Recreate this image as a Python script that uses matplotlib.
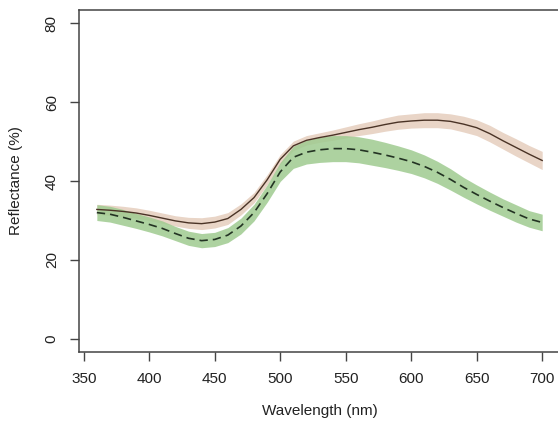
import matplotlib.pyplot as plt
import numpy as np

plt.rcParams["font.family"] = ["Liberation Sans", "DejaVu Sans"]

wavelength = np.arange(360, 701, 10)

# mean reflectance, solid (brown) series
solid_mean = [32.8, 32.6, 32.3, 31.9, 31.3, 30.6, 29.9, 29.4, 29.2, 29.6,
              30.5, 32.8, 35.8, 40.3, 45.5, 48.9, 50.3, 51.0, 51.6, 52.3,
              53.0, 53.6, 54.3, 54.9, 55.2, 55.4, 55.4, 55.1, 54.4, 53.5,
              52.0, 50.2, 48.5, 46.8, 45.2]
solid_err = [1.3, 1.3, 1.3, 1.3, 1.3, 1.3, 1.3, 1.4, 1.5, 1.5,
             1.5, 1.4, 1.3, 1.3, 1.2, 1.2, 1.2, 1.2, 1.3, 1.4,
             1.5, 1.6, 1.7, 1.8, 1.8, 1.9, 1.9, 1.9, 2.0, 2.0,
             2.1, 2.1, 2.2, 2.2, 2.3]

# mean reflectance, dashed (green) series
dashed_mean = [32.0, 31.6, 30.8, 29.9, 29.0, 28.0, 26.7, 25.5, 24.9, 25.2,
               26.3, 28.6, 32.0, 36.8, 42.3, 46.0, 47.3, 47.9, 48.2, 48.2,
               47.9, 47.3, 46.6, 45.8, 44.9, 43.7, 42.2, 40.4, 38.4, 36.6,
               34.9, 33.3, 31.8, 30.4, 29.5]
dashed_err = [2.0, 2.0, 2.0, 1.9, 1.9, 1.9, 1.8, 1.8, 1.8, 1.8,
              1.9, 2.0, 2.1, 2.2, 2.4, 2.8, 3.0, 3.2, 3.3, 3.3,
              3.3, 3.3, 3.2, 3.1, 3.0, 2.9, 2.8, 2.7, 2.5, 2.4,
              2.3, 2.2, 2.2, 2.1, 2.1]

xticks = [350, 400, 450, 500, 550, 600, 650, 700]
yticks = [0, 20, 40, 60, 80]

solid_mean = np.array(solid_mean)
solid_err = np.array(solid_err)
dashed_mean = np.array(dashed_mean)
dashed_err = np.array(dashed_err)

fig = plt.figure(figsize=(5.58, 4.26), dpi=100)
ax = fig.add_axes([0.1416, 0.1746, 0.862, 0.801])

ax.fill_between(wavelength, solid_mean - solid_err, solid_mean + solid_err,
                color="#e9d5c7", lw=0)
ax.fill_between(wavelength, dashed_mean - dashed_err, dashed_mean + dashed_err,
                color="#9fcb90", alpha=0.85, lw=0)
ax.plot(wavelength, solid_mean, color="#4a3326", lw=1.0)
ax.plot(wavelength, dashed_mean, color="#233323", lw=1.2,
        dashes=(5, 3))

ax.set_xlim(346.4, 713.6)
ax.set_ylim(-3.2, 83.2)
ax.set_xticks(xticks)
ax.set_yticks(yticks)
ax.set_yticklabels([str(v) for v in yticks], rotation=90, va="center")

for s in ax.spines.values():
    s.set_color("#444444")
    s.set_linewidth(1.1)
ax.tick_params(length=6.5, width=1.0, color="#444444", labelsize=11,
               labelcolor="#222222", pad=8)

ax.set_xlabel("Wavelength (nm)", fontsize=11, color="#222222", labelpad=13)
ax.set_ylabel("Reflectance (%)", fontsize=11, color="#222222", labelpad=16)

fig.savefig("out.png", dpi=100)
